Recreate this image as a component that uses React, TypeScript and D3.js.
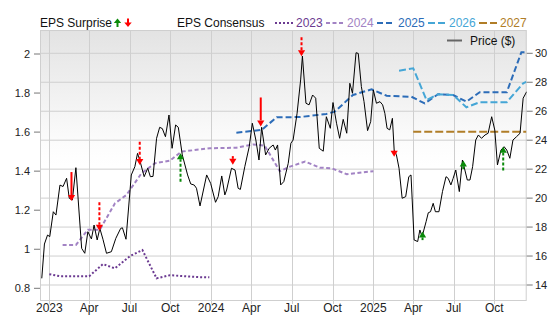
import React from "react";
import * as d3 from "d3";

// ---------- DATA ----------
const priceData: [string, number][] = [
  ["2022-12-15", 14.46], ["2022-12-21", 16.83], ["2022-12-28", 17.45], ["2023-01-02", 17.34],
  ["2023-01-10", 19.06], ["2023-01-16", 18.83], ["2023-01-25", 20.9], ["2023-02-01", 20.8],
  ["2023-02-09", 21.37], ["2023-02-15", 19.99], ["2023-02-22", 19.87], ["2023-03-02", 22.1],
  ["2023-03-15", 16.53], ["2023-03-22", 16.19], ["2023-03-29", 17.68], ["2023-04-06", 17.18],
  ["2023-04-12", 18.14], ["2023-04-19", 17.11], ["2023-04-25", 17.91], ["2023-05-02", 17.16],
  ["2023-05-10", 16.19], ["2023-05-21", 16.3], ["2023-05-31", 17.22], ["2023-06-11", 17.91],
  ["2023-06-15", 17.95], ["2023-06-23", 17.16], ["2023-07-05", 21.6], ["2023-07-13", 22.17],
  ["2023-07-19", 23.09], ["2023-07-24", 22.63], ["2023-08-03", 21.48], ["2023-08-11", 22.06],
  ["2023-08-17", 21.48], ["2023-08-23", 21.5], ["2023-08-31", 24.13], ["2023-09-07", 24.89],
  ["2023-09-13", 24.8], ["2023-09-20", 24.24], ["2023-09-28", 25.74], ["2023-10-05", 23.44],
  ["2023-10-13", 25.05], ["2023-10-19", 24.89], ["2023-10-28", 22.98], ["2023-11-09", 21.6],
  ["2023-11-16", 20.98], ["2023-11-24", 20.9], ["2023-11-29", 20.68], ["2023-12-07", 19.46],
  ["2023-12-22", 21.6], ["2023-12-31", 21.02], ["2024-01-11", 19.71], ["2024-01-17", 20.1],
  ["2024-01-25", 21.53], ["2024-02-01", 20.22], ["2024-02-05", 20.56], ["2024-02-16", 22.06],
  ["2024-02-24", 21.94], ["2024-03-02", 20.68], ["2024-03-07", 20.6], ["2024-03-17", 22.17],
  ["2024-03-27", 23.55], ["2024-04-03", 25.17], ["2024-04-11", 24.01], ["2024-04-18", 22.63],
  ["2024-04-24", 24.89], ["2024-05-03", 22.98], ["2024-05-11", 23.44], ["2024-05-20", 23.67],
  ["2024-05-25", 23.32], ["2024-05-30", 23.67], ["2024-06-06", 20.91], ["2024-06-13", 21.14],
  ["2024-06-23", 22.4], ["2024-06-29", 23.79], ["2024-07-04", 24.01], ["2024-07-13", 25.86],
  ["2024-07-21", 28.16], ["2024-07-25", 29.81], ["2024-08-02", 26.55], ["2024-08-09", 26.44],
  ["2024-08-17", 27.12], ["2024-08-24", 26.9], ["2024-09-01", 23.44], ["2024-09-10", 23.24],
  ["2024-09-17", 25.62], ["2024-09-26", 24.82], ["2024-10-02", 26.6], ["2024-10-10", 25.17],
  ["2024-10-17", 24.13], ["2024-10-25", 25.44], ["2024-11-02", 24.48], ["2024-11-09", 27.93],
  ["2024-11-15", 27.24], ["2024-11-23", 30.04], ["2024-11-28", 29.99], ["2024-12-05", 27.7],
  ["2024-12-11", 26.66], ["2024-12-19", 24.66], ["2024-12-26", 25.28], ["2025-01-01", 27.47],
  ["2025-01-08", 26.55], ["2025-01-16", 26.66], ["2025-01-22", 26.44], ["2025-01-27", 25.86],
  ["2025-02-01", 24.82], ["2025-02-07", 24.71], ["2025-02-13", 25.51], ["2025-02-17", 23.32],
  ["2025-02-22", 23.0], ["2025-02-28", 22.06], ["2025-03-07", 19.99], ["2025-03-15", 20.1],
  ["2025-03-22", 21.48], ["2025-03-27", 21.6], ["2025-04-03", 17.11], ["2025-04-11", 17.0],
  ["2025-04-16", 17.8], ["2025-04-21", 17.34], ["2025-04-30", 18.37], ["2025-05-05", 18.99],
  ["2025-05-10", 19.06], ["2025-05-16", 19.64], ["2025-05-21", 19.06], ["2025-05-29", 19.06],
  ["2025-06-06", 20.45], ["2025-06-14", 21.48], ["2025-06-19", 21.36], ["2025-06-25", 20.91],
  ["2025-06-30", 21.36], ["2025-07-06", 21.94], ["2025-07-14", 20.45], ["2025-07-21", 22.63],
  ["2025-08-01", 21.25], ["2025-08-07", 21.25], ["2025-08-13", 22.17], ["2025-08-20", 24.01],
  ["2025-08-26", 24.36], ["2025-09-02", 24.13], ["2025-09-10", 24.36], ["2025-09-17", 24.48],
  ["2025-09-25", 25.62], ["2025-10-02", 24.7], ["2025-10-08", 22.29], ["2025-10-16", 23.32],
  ["2025-10-23", 23.55], ["2025-10-29", 23.32], ["2025-11-05", 22.75], ["2025-11-12", 24.01],
  ["2025-11-20", 24.24], ["2025-11-28", 24.48], ["2025-12-05", 26.9], ["2025-12-13", 27.35],
];

const eps2023: [string, number][] = [
  ["2023-01-01", 0.872], ["2023-01-25", 0.862], ["2023-04-01", 0.862], ["2023-05-02", 0.924],
  ["2023-05-29", 0.902], ["2023-07-02", 0.965], ["2023-07-30", 0.996], ["2023-08-31", 0.851],
  ["2023-09-30", 0.867], ["2023-12-07", 0.857], ["2023-12-28", 0.856],
];
const eps2024: [string, number][] = [
  ["2023-01-31", 1.022], ["2023-03-02", 1.022], ["2023-03-29", 1.1], ["2023-04-25", 1.1],
  ["2023-05-29", 1.235], ["2023-06-24", 1.278], ["2023-07-28", 1.389], ["2023-08-27", 1.44],
  ["2023-09-30", 1.454], ["2023-10-26", 1.5], ["2023-12-29", 1.517], ["2024-02-27", 1.52],
  ["2024-04-05", 1.537], ["2024-05-01", 1.53], ["2024-06-04", 1.4], ["2024-06-27", 1.423],
  ["2024-07-31", 1.449], ["2024-09-02", 1.418], ["2024-09-29", 1.415], ["2024-11-02", 1.384],
  ["2025-01-01", 1.4],
];
const eps2025: [string, number][] = [
  ["2024-02-27", 1.597], ["2024-04-24", 1.611], ["2024-05-28", 1.676], ["2024-07-19", 1.677],
  ["2024-09-17", 1.693], ["2024-10-06", 1.705], ["2024-11-16", 1.79], ["2024-12-28", 1.819],
  ["2025-01-31", 1.786], ["2025-03-28", 1.781], ["2025-04-27", 1.747], ["2025-05-27", 1.794],
  ["2025-06-30", 1.79], ["2025-07-30", 1.756], ["2025-08-29", 1.804], ["2025-10-29", 1.804],
  ["2025-12-01", 2.009], ["2025-12-12", 2.009],
];
const eps2026: [string, number][] = [
  ["2025-02-28", 1.914], ["2025-04-01", 1.927], ["2025-05-01", 1.764], ["2025-05-27", 1.794],
  ["2025-06-30", 1.79], ["2025-07-30", 1.727], ["2025-08-29", 1.753], ["2025-10-29", 1.753],
  ["2025-12-05", 1.85], ["2025-12-12", 1.857],
];
const eps2027: [string, number][] = [
  ["2025-04-01", 1.602], ["2025-12-12", 1.602],
];

// EPS surprise arrows: date, price at arrow start, price at arrow tip
const surprises: { date: string; from: number; to: number; beat: boolean; dotted: boolean }[] = [
  { date: "2023-02-20", from: 21.8, to: 19.8, beat: false, dotted: false },
  { date: "2023-04-24", from: 19.71, to: 17.75, beat: false, dotted: true },
  { date: "2023-07-24", from: 23.9, to: 22.29, beat: false, dotted: true },
  { date: "2023-10-24", from: 21.13, to: 23.1, beat: true, dotted: true },
  { date: "2024-02-19", from: 22.9, to: 22.3, beat: false, dotted: true },
  { date: "2024-04-22", from: 26.95, to: 24.95, beat: false, dotted: false },
  { date: "2024-07-23", from: 31.1, to: 29.8, beat: false, dotted: true },
  { date: "2025-02-17", from: 23.3, to: 22.85, beat: false, dotted: false },
  { date: "2025-04-22", from: 17.1, to: 17.7, beat: true, dotted: false },
  { date: "2025-07-23", from: 22.0, to: 22.6, beat: true, dotted: false },
  { date: "2025-10-21", from: 21.9, to: 23.55, beat: true, dotted: true },
];

const xTickDates = [
  "2023-01-01", "2023-04-01", "2023-07-01", "2023-10-01",
  "2024-01-01", "2024-04-01", "2024-07-01", "2024-10-01",
  "2025-01-01", "2025-04-01", "2025-07-01", "2025-10-01",
];
const leftTicks = [0.8, 1, 1.2, 1.4, 1.6, 1.8, 2];
const rightTicks = [14, 16, 18, 20, 22, 24, 26, 28, 30];

const consensusSeries = [
  { name: "2023", data: eps2023, color: "#6b3a91", dash: "2,2" },
  { name: "2024", data: eps2024, color: "#a283c4", dash: "4,2.5" },
  { name: "2025", data: eps2025, color: "#2c6cb8", dash: "6,3" },
  { name: "2026", data: eps2026, color: "#45a6d6", dash: "7,3" },
  { name: "2027", data: eps2027, color: "#b07d27", dash: "8,3" },
];

// ---------- CHART ----------
const W = 556, H = 315;
const L = 40, R = 526.7, T = 30, B = 300;
const parse = d3.timeParse("%Y-%m-%d");
const FONT = "'Liberation Sans', Arial, sans-serif";

export default function App() {
  const x = d3.scaleTime()
    .domain([parse("2022-12-11")!, parse("2025-12-13")!])
    .range([L, R]);
  const yL = d3.scaleLinear().domain([0.8, 2.0]).range([288.3, 54]);
  const yR = d3.scaleLinear().domain([14, 30]).range([285, 53.3]);

  const lineL = d3.line<[string, number]>().x(d => x(parse(d[0])!)).y(d => yL(d[1]));
  const lineR = d3.line<[string, number]>().x(d => x(parse(d[0])!)).y(d => yR(d[1]));
  const fmtTick = (d: Date) => (d.getMonth() === 0 ? d3.timeFormat("%Y")(d) : d3.timeFormat("%b")(d));

  const headH = 6, headW = 3.6;

  // legend layout
  const legY = 23;
  const legendItems = [
    { x0: 275, tx: 296 },
    { x0: 326, tx: 347 },
    { x0: 377, tx: 398 },
    { x0: 428, tx: 449 },
    { x0: 479, tx: 500 },
  ];

  return (
    <svg width={W} height={H} style={{ position: "absolute", left: 0, top: 0 }} fontFamily={FONT}>
      <defs>
        <linearGradient id="bg" x1="0" y1="0" x2="0" y2="1">
          <stop offset="0" stopColor="#e3e3e3" />
          <stop offset="0.42" stopColor="#fcfcfc" />
          <stop offset="0.5" stopColor="#ffffff" />
          <stop offset="1" stopColor="#ffffff" />
        </linearGradient>
        <clipPath id="plot">
          <rect x={L} y={T} width={R - L} height={B - T} />
        </clipPath>
      </defs>
      <rect width={W} height={H} fill="#fff" />
      <rect x={L} y={T} width={R - L} height={B - T} fill="url(#bg)" />

      {/* grid */}
      {rightTicks.map(t => (
        <line key={"h" + t} x1={L} x2={R} y1={yR(t)} y2={yR(t)} stroke="#cfcfcf" strokeWidth={1} />
      ))}
      {xTickDates.map(s => {
        const xx = Math.round(x(parse(s)!)) + 0.5;
        return <line key={"v" + s} x1={xx} x2={xx} y1={T} y2={B + 4} stroke="#cfcfcf" strokeWidth={1} />;
      })}
      <rect x={L + 0.5} y={T + 0.5} width={R - L - 1} height={B - T} fill="none" stroke="#cfcfcf" />

      {/* left axis */}
      {leftTicks.map(t => (
        <g key={"l" + t}>
          <line x1={34} x2={40} y1={yL(t)} y2={yL(t)} stroke="#777" />
          <text x={30} y={yL(t) + 4} fontSize={11} textAnchor="end" fill="#222">{String(t)}</text>
        </g>
      ))}
      {/* right axis */}
      {rightTicks.map(t => (
        <g key={"r" + t}>
          <line x1={R} x2={R + 6} y1={yR(t)} y2={yR(t)} stroke="#777" />
          <text x={535} y={yR(t) + 4} fontSize={11} fill="#222">{String(t)}</text>
        </g>
      ))}
      {/* x axis labels */}
      {xTickDates.map(s => (
        <text key={"xl" + s} x={x(parse(s)!)} y={312} fontSize={12} textAnchor="middle" fill="#222">
          {fmtTick(parse(s)!)}
        </text>
      ))}

      <g clipPath="url(#plot)">
        {/* consensus lines */}
        {consensusSeries.map(s => (
          <path key={s.name} d={lineL(s.data)!} fill="none" stroke={s.color} strokeWidth={2}
            strokeDasharray={s.dash} />
        ))}
        {/* price */}
        <path d={lineR(priceData)!} fill="none" stroke="#000" strokeWidth={1} />
      </g>

      {/* surprise arrows */}
      {surprises.map((e, i) => {
        const xx = x(parse(e.date)!);
        const y0 = yR(e.from), y1 = yR(e.to);
        const sign = e.beat ? -1 : 1; // down arrow: tip lower on screen
        const color = e.beat ? "#0a8a0a" : "#ff0000";
        const stemEnd = y1 - sign * headH;
        const hasStem = (stemEnd - y0) * sign > 0;
        return (
          <g key={"s" + i}>
            {hasStem && (
              <line x1={xx} x2={xx} y1={y0} y2={stemEnd} stroke={color} strokeWidth={2}
                strokeDasharray={e.dotted ? "3,2" : undefined} />
            )}
            <path d={`M${xx - headW},${stemEnd}L${xx + headW},${stemEnd}L${xx},${y1}Z`} fill={color} />
          </g>
        );
      })}

      {/* legend */}
      <text x={40} y={27} fontSize={12} fill="#111">EPS Surprise</text>
      <g>
        <line x1={117.5} x2={117.5} y1={27} y2={22} stroke="#0a8a0a" strokeWidth={2} />
        <path d="M113.8,23L121.2,23L117.5,18.5Z" fill="#0a8a0a" />
        <line x1={128} x2={128} y1={18.5} y2={23} stroke="#ff0000" strokeWidth={2} />
        <path d="M124.3,22.5L131.7,22.5L128,27Z" fill="#ff0000" />
      </g>
      <text x={177} y={27} fontSize={12} fill="#111">EPS Consensus</text>
      {consensusSeries.map((s, i) => (
        <g key={"lg" + s.name}>
          <line x1={legendItems[i].x0} x2={legendItems[i].x0 + 18} y1={legY} y2={legY}
            stroke={s.color} strokeWidth={2} strokeDasharray={s.dash} />
          <text x={legendItems[i].tx} y={27} fontSize={12} fill={s.color}>{s.name}</text>
        </g>
      ))}
      <line x1={447} x2={462} y1={40.5} y2={40.5} stroke="#666" strokeWidth={2} />
      <text x={470} y={45} fontSize={12} fill="#111">Price ($)</text>
    </svg>
  );
}
